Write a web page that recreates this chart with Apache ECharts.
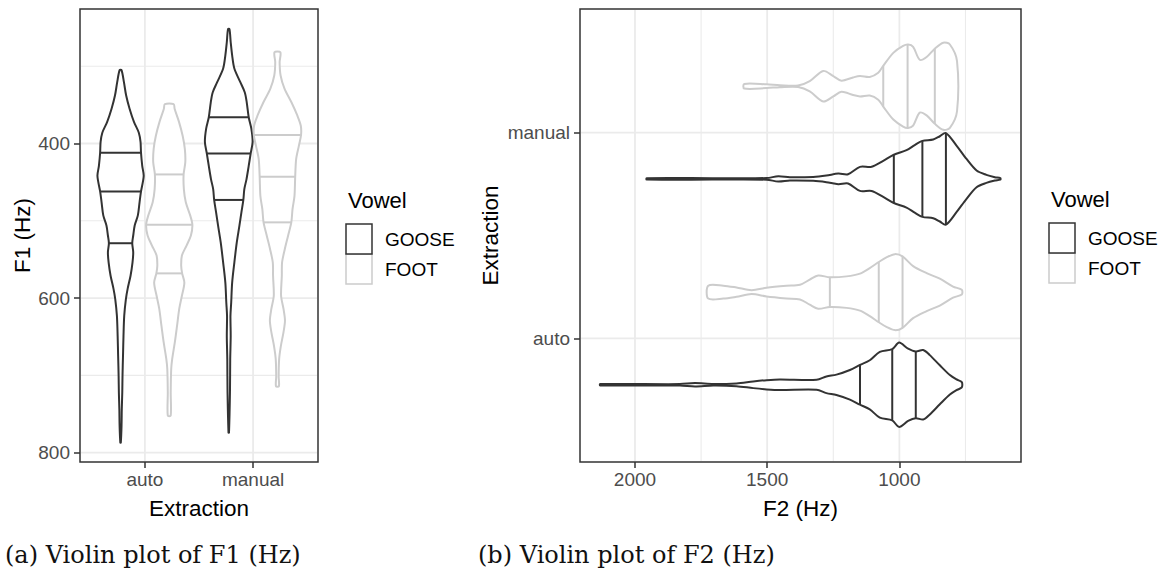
<!DOCTYPE html>
<html>
<head>
<meta charset="utf-8">
<title>Violin plots of F1 and F2</title>
<script src="https://cdn.jsdelivr.net/npm/echarts@6/dist/echarts.min.js"></script>
<style>
  html, body { margin: 0; padding: 0; background: #ffffff; }
  #chart { width: 1172px; height: 571px; }
</style>
</head>
<body>
<div id="chart"></div>
<script>
// ---- data ------------------------------------------------------------
const extraction = ['auto', 'manual'];
const vowels = ['GOOSE', 'FOOT'];

// Violin outlines: [formant value in Hz, scaled density (1 = widest violin)]
const f1GooseAuto = [[305,0.04],[321,0.14],[338,0.23],[355,0.37],[372,0.55],[386,0.75],[398,0.82],[412,0.84],[429,0.89],[442,0.95],[462,0.84],[476,0.78],[493,0.71],[506,0.58],[519,0.52],[529,0.48],[541,0.52],[554,0.49],[571,0.41],[588,0.29],[601,0.22],[623,0.15],[649,0.12],[675,0.10],[700,0.08],[722,0.07],[744,0.05],[765,0.04],[787,0.01]];
const f1FootAuto = [[349,0.18],[355,0.22],[372,0.40],[390,0.55],[407,0.64],[424,0.66],[440,0.59],[459,0.60],[476,0.68],[493,0.86],[505,0.95],[519,0.89],[532,0.71],[545,0.52],[558,0.49],[568,0.53],[580,0.62],[597,0.52],[614,0.41],[636,0.32],[657,0.23],[679,0.12],[692,0.08],[722,0.06],[752,0.06]];
const f1GooseManual = [[252,0.03],[269,0.08],[286,0.14],[303,0.23],[321,0.48],[334,0.66],[347,0.74],[366,0.82],[381,0.93],[398,0.98],[413,0.90],[429,0.82],[446,0.73],[459,0.64],[473,0.60],[489,0.52],[506,0.44],[528,0.33],[554,0.23],[580,0.14],[606,0.10],[623,0.07],[649,0.08],[679,0.06],[722,0.05],[774,0.01]];
const f1FootManual = [[282,0.12],[295,0.09],[312,0.13],[329,0.29],[347,0.58],[364,0.82],[377,0.96],[389,0.97],[403,0.88],[420,0.77],[443,0.73],[468,0.70],[485,0.62],[502,0.57],[519,0.44],[537,0.30],[554,0.19],[571,0.18],[597,0.15],[614,0.25],[629,0.31],[644,0.25],[662,0.14],[679,0.07],[701,0.05],[714,0.06]];

const f2GooseAuto = [[2132,0.015],[1830,0.015],[1773,0.036],[1704,0.015],[1616,0.029],[1553,0.072],[1502,0.10],[1452,0.115],[1313,0.108],[1276,0.18],[1238,0.22],[1187,0.32],[1149,0.43],[1112,0.53],[1074,0.71],[1027,0.77],[1001,0.91],[967,0.78],[938,0.72],[910,0.75],[885,0.64],[847,0.42],[809,0.21],[784,0.115],[764,0.057]];
const f2FootAuto = [[1723,0.14],[1666,0.14],[1616,0.10],[1559,0.043],[1502,0.093],[1427,0.136],[1376,0.158],[1339,0.27],[1307,0.36],[1263,0.32],[1200,0.34],[1149,0.40],[1112,0.52],[1078,0.65],[1049,0.75],[1017,0.82],[988,0.77],[948,0.56],[897,0.41],[847,0.29],[797,0.12],[764,0.05]];
const f2GooseManual = [[1956,0.015],[1704,0.015],[1502,0.018],[1458,0.057],[1414,0.036],[1326,0.043],[1276,0.072],[1231,0.115],[1194,0.10],[1149,0.26],[1105,0.26],[1061,0.39],[1021,0.52],[973,0.62],[942,0.73],[913,0.82],[872,0.85],[847,0.92],[824,0.99],[784,0.72],[746,0.43],[708,0.18],[671,0.086],[639,0.036],[618,0.015]];
const f2FootManual = [[1587,0.05],[1502,0.04],[1452,0.02],[1383,0.015],[1339,0.11],[1288,0.33],[1250,0.22],[1219,0.12],[1175,0.19],[1149,0.22],[1112,0.20],[1080,0.29],[1061,0.44],[1023,0.72],[986,0.87],[967,0.90],[948,0.85],[923,0.57],[897,0.63],[866,0.81],[834,0.94],[809,0.90],[782,0.54]];

// Quartiles (25 %, 50 %, 75 %) drawn across each violin
const f1GooseAutoQ = [412, 462, 529];
const f1FootAutoQ = [440, 505, 568];
const f1GooseManualQ = [366, 413, 473];
const f1FootManualQ = [389, 443, 502];
const f2GooseAutoQ = [1149, 1027, 938];
const f2FootAutoQ = [1263, 1078, 988];
const f2GooseManualQ = [1021, 913, 824];
const f2FootManualQ = [1061, 969, 866];

// Axis breaks
const f1Ticks = [400, 600, 800];
const f1MinorTicks = [300, 500, 700];
const f2Ticks = [2000, 1500, 1000];
const f2MinorTicks = [1750, 1250, 750];

// ---- drawing ---------------------------------------------------------
const DODGE = 0.225;   // centre offset of each vowel within a category
const HALF = 0.225;    // half width of a violin at density 1
const LINE_W = 2;
const vowelColor = { GOOSE: '#333333', FOOT: '#CCCCCC' };
const SANS = 'Liberation Sans, Arial, Helvetica, sans-serif';
const catPositions = extraction.map((c, i) => i + 1);

const f1Violins = {
  GOOSE: [{ cat: 'auto', outline: f1GooseAuto, q: f1GooseAutoQ }, { cat: 'manual', outline: f1GooseManual, q: f1GooseManualQ }],
  FOOT: [{ cat: 'auto', outline: f1FootAuto, q: f1FootAutoQ }, { cat: 'manual', outline: f1FootManual, q: f1FootManualQ }]
};
const f2Violins = {
  GOOSE: [{ cat: 'auto', outline: f2GooseAuto, q: f2GooseAutoQ }, { cat: 'manual', outline: f2GooseManual, q: f2GooseManualQ }],
  FOOT: [{ cat: 'auto', outline: f2FootAuto, q: f2FootAutoQ }, { cat: 'manual', outline: f2FootManual, q: f2FootManualQ }]
};

function densityAt(outline, val) {
  for (let i = 0; i < outline.length - 1; i++) {
    const a = outline[i], b = outline[i + 1];
    if ((val - a[0]) * (val - b[0]) <= 0) {
      const t = (val - a[0]) / (b[0] - a[0]);
      return a[1] + t * (b[1] - a[1]);
    }
  }
  return 0;
}

function violinRenderer(list, offset, horizontal, color) {
  return function (params, api) {
    const v = list[params.dataIndex];
    const pos = extraction.indexOf(v.cat) + 1;
    const at = (val, w) => horizontal
      ? api.coord([val, pos + offset + w])
      : api.coord([pos + offset + w, val]);
    const sideA = v.outline.map(p => at(p[0], p[1] * HALF));
    const sideB = v.outline.slice().reverse().map(p => at(p[0], -p[1] * HALF));
    const children = [{
      type: 'polygon',
      shape: { points: sideA.concat(sideB), smooth: 0.3 },
      style: { fill: '#ffffff', stroke: color, lineWidth: LINE_W, lineJoin: 'round' }
    }];
    v.q.forEach(q => {
      const d = densityAt(v.outline, q) * HALF;
      const p1 = at(q, -d), p2 = at(q, d);
      children.push({
        type: 'line',
        shape: { x1: p1[0], y1: p1[1], x2: p2[0], y2: p2[1] },
        style: { stroke: color, lineWidth: LINE_W }
      });
    });
    return { type: 'group', children };
  };
}

function violinSeries(gridIdx, violins, vowel, horizontal) {
  const list = violins[vowel];
  const offset = vowel === 'GOOSE' ? -DODGE : DODGE;
  return {
    type: 'custom',
    name: vowel,
    xAxisIndex: gridIdx,
    yAxisIndex: gridIdx,
    z: 3,
    silent: true,
    data: list.map((v, i) => {
      const pos = extraction.indexOf(v.cat) + 1;
      return horizontal ? [v.q[1], pos, i] : [pos, v.q[1], i];
    }),
    renderItem: violinRenderer(list, offset, horizontal, vowelColor[vowel])
  };
}

// panel grid lines: [direction (0 = horizontal, 1 = vertical), value, major flag]
function gridLineSeries(gridIdx, hMajor, hMinor, vMajor, vMinor, refX, refY) {
  const data = []
    .concat(hMinor.map(v => [0, v, 0]), hMajor.map(v => [0, v, 1]))
    .concat(vMinor.map(v => [1, v, 0]), vMajor.map(v => [1, v, 1]));
  return {
    type: 'custom',
    xAxisIndex: gridIdx,
    yAxisIndex: gridIdx,
    z: 1,
    silent: true,
    data,
    renderItem: function (params, api) {
      const cs = params.coordSys;
      const dir = api.value(0), val = api.value(1), major = api.value(2);
      let shape;
      if (dir === 0) {
        const y = api.coord([refX, val])[1];
        shape = { x1: cs.x + 1, y1: y, x2: cs.x + cs.width - 1, y2: y };
      } else {
        const x = api.coord([val, refY])[0];
        shape = { x1: x, y1: cs.y + 1, x2: x, y2: cs.y + cs.height - 1 };
      }
      return { type: 'line', shape, style: { stroke: '#EBEBEB', lineWidth: major ? 1.8 : 1.1 } };
    }
  };
}

const tickStyle = { length: 6, lineStyle: { color: '#333333', width: 1.5 } };
const labelStyle = { color: '#4D4D4D', fontSize: 19, fontFamily: SANS };
const nameStyle = { color: '#000000', fontSize: 22.5, fontFamily: SANS };
const catLabel = v => extraction[Math.round(v) - 1] || '';
const plainLabel = v => String(v);

function legendGraphic(keyX, titleY) {
  const els = [{
    type: 'text', x: keyX + 2, y: titleY,
    style: { text: 'Vowel', fill: '#000', font: '22px ' + SANS, verticalAlign: 'middle' }
  }];
  vowels.slice().reverse().forEach(name => {
    const i = vowels.indexOf(name);
    els.push({
      type: 'rect', z: 10 - i,
      shape: { x: keyX, y: titleY + 24 + i * 30, width: 26, height: 30 },
      style: { fill: '#ffffff', stroke: vowelColor[name], lineWidth: 1.5 }
    });
  });
  vowels.forEach((name, i) => {
    els.push({
      type: 'text', x: keyX + 39, y: titleY + 39 + i * 30.5,
      style: { text: name, fill: '#000', font: '19px ' + SANS, verticalAlign: 'middle' }
    });
  });
  return els;
}

const option = {
  animation: false,
  backgroundColor: '#ffffff',
  grid: [
    { left: 80, top: 9, width: 238, height: 453, show: true, backgroundColor: '#ffffff', borderColor: '#333333', borderWidth: 1.5 },
    { left: 580, top: 9, width: 441, height: 453, show: true, backgroundColor: '#ffffff', borderColor: '#333333', borderWidth: 1.5 }
  ],
  xAxis: [
    {
      type: 'value', gridIndex: 0, min: 0.4, max: 2.6,
      axisLine: { show: false }, splitLine: { show: false },
      axisTick: Object.assign({ customValues: catPositions }, tickStyle),
      axisLabel: Object.assign({ customValues: catPositions, formatter: catLabel, margin: 8 }, labelStyle),
      name: 'Extraction', nameLocation: 'middle', nameGap: 35, nameTextStyle: nameStyle
    },
    {
      type: 'value', gridIndex: 1, min: 540, max: 2208, inverse: true,
      axisLine: { show: false }, splitLine: { show: false },
      axisTick: Object.assign({ customValues: f2Ticks }, tickStyle),
      axisLabel: Object.assign({ customValues: f2Ticks, formatter: plainLabel, margin: 8 }, labelStyle),
      name: 'F2 (Hz)', nameLocation: 'middle', nameGap: 35, nameTextStyle: nameStyle
    }
  ],
  yAxis: [
    {
      type: 'value', gridIndex: 0, min: 226, max: 812, inverse: true,
      axisLine: { show: false }, splitLine: { show: false },
      axisTick: Object.assign({ customValues: f1Ticks }, tickStyle),
      axisLabel: Object.assign({ customValues: f1Ticks, formatter: plainLabel, margin: 10 }, labelStyle),
      name: 'F1 (Hz)', nameLocation: 'middle', nameGap: 46, nameTextStyle: nameStyle
    },
    {
      type: 'value', gridIndex: 1, min: 0.4, max: 2.6,
      axisLine: { show: false }, splitLine: { show: false },
      axisTick: Object.assign({ customValues: catPositions }, tickStyle),
      axisLabel: Object.assign({ customValues: catPositions, formatter: catLabel, margin: 10 }, labelStyle),
      name: 'Extraction', nameLocation: 'middle', nameGap: 78, nameTextStyle: nameStyle
    }
  ],
  series: [
    gridLineSeries(0, f1Ticks, f1MinorTicks, catPositions, [], 1, 500),
    gridLineSeries(1, catPositions, [], f2Ticks, f2MinorTicks, 1000, 1),
    violinSeries(0, f1Violins, 'GOOSE', false),
    violinSeries(0, f1Violins, 'FOOT', false),
    violinSeries(1, f2Violins, 'GOOSE', true),
    violinSeries(1, f2Violins, 'FOOT', true)
  ],
  graphic: [].concat(
    legendGraphic(346, 200),
    legendGraphic(1049, 199),
    [
      { type: 'text', x: 5, y: 555, style: { text: '(a) Violin plot of F1 (Hz)', fill: '#111', font: '24px "DejaVu Serif", serif', verticalAlign: 'middle' } },
      { type: 'text', x: 478, y: 555, style: { text: '(b) Violin plot of F2 (Hz)', fill: '#111', font: '24px "DejaVu Serif", serif', verticalAlign: 'middle' } }
    ]
  )
};

const chart = echarts.init(document.getElementById('chart'), null, { renderer: 'svg' });
chart.setOption(option);
</script>
</body>
</html>
